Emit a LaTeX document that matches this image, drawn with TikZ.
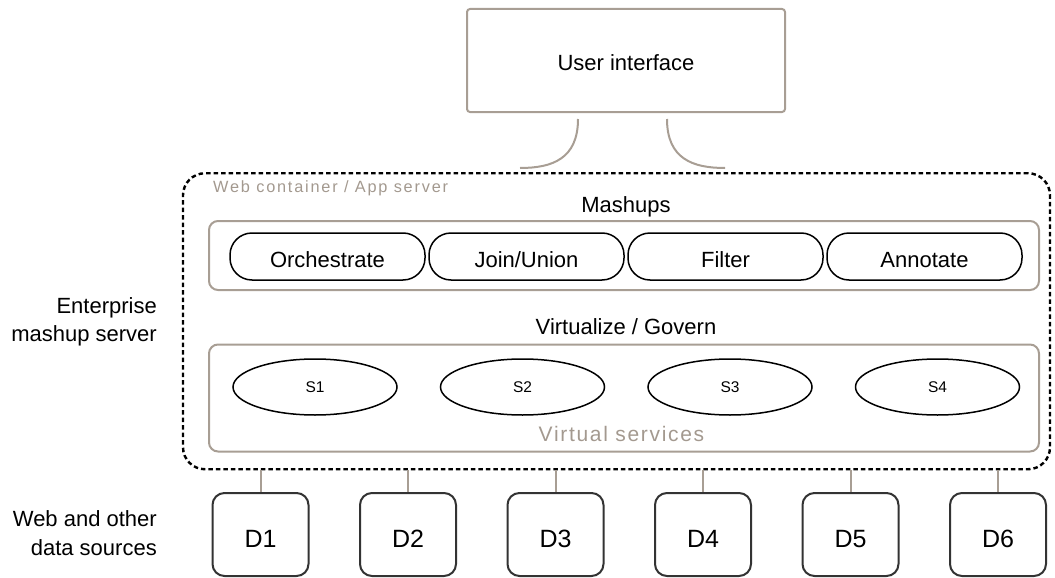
\documentclass[tikz,border=0pt]{standalone}
\usepackage{fontspec}
\setmainfont{Liberation Sans}
\usepackage{tikz}
\usetikzlibrary{shapes.geometric, positioning}
\definecolor{framegray}{RGB}{168,158,148}
\definecolor{textgray}{RGB}{163,153,143}
\definecolor{darkline}{RGB}{51,51,51}
\tikzstyle{uibox} = [draw=framegray, line width=2pt, rounded corners=3pt, minimum width=318pt, minimum height=103pt, inner sep=0pt, text height=20pt, text depth=0pt, font=\fontsize{22}{26}\selectfont]
\tikzstyle{server} = [draw=black, line width=2.4pt, dash pattern=on 4.5pt off 3pt, rounded corners=22pt, minimum width=867pt, minimum height=296pt, inner sep=0pt]
\tikzstyle{layer} = [draw=framegray, line width=2pt, rounded corners=9pt, minimum width=830pt, inner sep=0pt]
\tikzstyle{op} = [draw=black, line width=1.5pt, rounded corners=22pt, minimum width=195pt, minimum height=47pt, inner sep=0pt, text height=21pt, text depth=0pt, font=\fontsize{22}{26}\selectfont]
\tikzstyle{svc} = [ellipse, draw=black, line width=1.5pt, minimum width=164pt, minimum height=56pt, inner sep=0pt, text height=11pt, text depth=0pt, font=\fontsize{15.5}{18}\selectfont]
\tikzstyle{source} = [draw=darkline, line width=2pt, rounded corners=12pt, minimum width=96pt, minimum height=83pt, inner sep=0pt, text height=25pt, text depth=0pt, font=\fontsize{25}{30}\selectfont]
\tikzstyle{link} = [draw=framegray, line width=2pt]
\tikzstyle{heading} = [inner sep=0pt, font=\fontsize{22}{26}\selectfont]
\tikzstyle{side} = [inner sep=0pt, align=right, font=\fontsize{22}{28.7}\selectfont]
\tikzstyle{note} = [inner sep=0pt, text=textgray, font=\fontsize{16.3}{19}\selectfont\addfontfeature{LetterSpace=11}]
\tikzstyle{vsname} = [inner sep=0pt, text=textgray, font=\fontsize{21}{25}\selectfont\addfontfeature{LetterSpace=8}]

\begin{document}
\begin{tikzpicture}[x=1pt, y=-1pt]
    \useasboundingbox (0,0) rectangle (1055,578);
    \node[uibox] (ui) at (626,60.5) {User interface};
    \node[server] (srv) at (616.5,321.25) {};
    \node[note, anchor=base west] (srv-name) at (213,192) {Web container / App server};

    \coordinate (ui-l) at (520,168);
    \coordinate (ui-r) at (725,168);
    \draw[link] ([xshift=-48pt, yshift=-6pt]ui.south) .. controls +(0,40) and +(32,0) .. (ui-l);
    \draw[link] ([xshift=41pt, yshift=-6pt]ui.south) .. controls +(0,40) and +(-32,0) .. (ui-r);

    \node[heading, anchor=base] (mash-title) at (626,212.7) {Mashups};
    \node[layer, minimum height=69pt] (mash) at (624,255.5) {};
    \node[op] (orch) at (327.5,256.5) {Orchestrate};
    \node[op, right=2.5pt of orch] (join) {Join/Union};
    \node[op, right=2.5pt of join] (filter) {Filter};
    \node[op, right=2.5pt of filter] (annot) {Annotate};

    \node[heading, anchor=base] (virt-title) at (626,334) {Virtualize / Govern};
    \node[layer, minimum height=107pt] (virt) at (624,398) {};
    \node[svc] (s1) at (315,387) {S1};
    \node[svc, right=42pt of s1] (s2) {S2};
    \node[svc, right=42pt of s2] (s3) {S3};
    \node[svc, right=42pt of s3] (s4) {S4};
    \node[vsname, anchor=base] (virt-name) at (621.5,441.7) {Virtual services};

    \node[source] (d1) at (260.5,534.5) {D1};
    \node[source, right=49.5pt of d1] (d2) {D2};
    \node[source, right=49.5pt of d2] (d3) {D3};
    \node[source, right=49.5pt of d3] (d4) {D4};
    \node[source, right=49.5pt of d4] (d5) {D5};
    \node[source, right=49.5pt of d5] (d6) {D6};
    \draw[link] (d1.north) -- (d1.north |- srv.south);
    \draw[link] (d2.north) -- (d2.north |- srv.south);
    \draw[link] (d3.north) -- (d3.north |- srv.south);
    \draw[link] (d4.north) -- (d4.north |- srv.south);
    \draw[link] (d5.north) -- (d5.north |- srv.south);
    \draw[link] (d6.north) -- (d6.north |- srv.south);

    \node[side, anchor=base east] (side-srv) at (157,341.7) {Enterprise\\mashup server};
    \node[side, anchor=base east] (side-src) at (157,555.4) {Web and other\\data sources};
\end{tikzpicture}
\end{document}
